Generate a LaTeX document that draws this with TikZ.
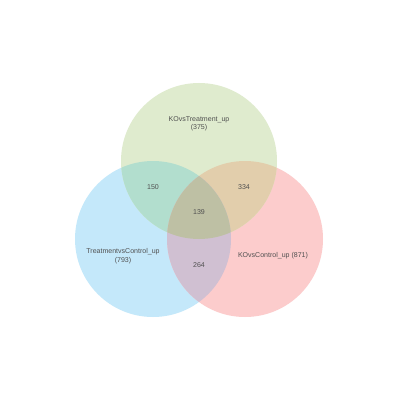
\documentclass[tikz,border=0pt]{standalone}
\usepackage{fontspec}
\setmainfont{Liberation Sans}
\usepackage{tikz}
\usetikzlibrary{positioning}

% region colours
\definecolor{onlyTop}{RGB}{223,235,206}
\definecolor{onlyLeft}{RGB}{196,232,250}
\definecolor{onlyRight}{RGB}{252,204,204}
\definecolor{topLeft}{RGB}{178,222,206}
\definecolor{topRight}{RGB}{226,206,172}
\definecolor{leftRight}{RGB}{208,192,210}
\definecolor{allThree}{RGB}{190,192,164}
\definecolor{labelgray}{RGB}{80,80,80}

\tikzset{
  setlabel/.style={text=labelgray, font=\fontsize{5}{6}\selectfont, align=center, inner sep=0pt},
  countlabel/.style={text=labelgray, font=\fontsize{5}{6}\selectfont, inner sep=0pt}
}

\begin{document}
\begin{tikzpicture}[x=0.025cm, y=-0.025cm]

        % --- CANVAS ---
        \useasboundingbox (0,0) rectangle (400,400);
        \fill[white] (0,0) rectangle (400,400);

        % --- PARAMETERS ---
        \def\r{78}
        \coordinate (Ctop) at (199,161);
        \coordinate (Cleft) at (153,239);
        \coordinate (Cright) at (245,239);

        % --- SETS ---
        \fill[onlyLeft] (Cleft) circle (\r);
        \fill[onlyRight] (Cright) circle (\r);
        \fill[onlyTop] (Ctop) circle (\r);

        % --- OVERLAPS ---
        \begin{scope}
            \clip (Ctop) circle (\r);
            \fill[topLeft] (Cleft) circle (\r);
            \fill[topRight] (Cright) circle (\r);
        \end{scope}
        \begin{scope}
            \clip (Cleft) circle (\r);
            \fill[leftRight] (Cright) circle (\r);
            \clip (Cright) circle (\r);
            \fill[allThree] (Ctop) circle (\r);
        \end{scope}

        % --- SET NAMES ---
        \node[setlabel] (nameTop) at (199,124) {KOvsTreatment\_up\\(375)};
        \node[setlabel] (nameLeft) at (123,256) {TreatmentvsControl\_up\\(793)};
        \node[setlabel] (nameRight) at (273,256) {KOvsControl\_up (871)};

        % --- COUNTS ---
        \node[countlabel] (nTL) at (153,187) {150};
        \node[countlabel] (nTR) at (244,187) {334};
        \node[countlabel] (nAll) at (199,212) {139};
        \node[countlabel] (nLR) at (199,265) {264};

    \end{tikzpicture}
\end{document}
